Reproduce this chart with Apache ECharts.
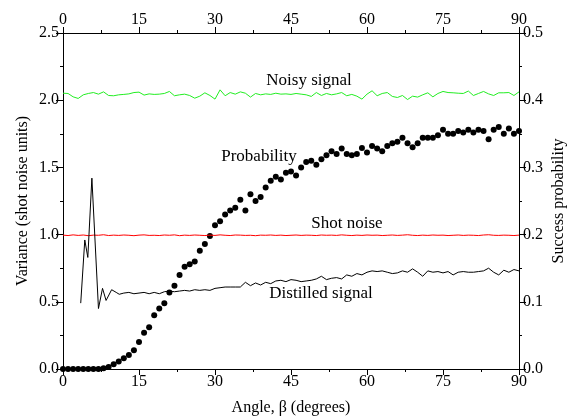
<!DOCTYPE html>
<html>
<head>
<meta charset="utf-8">
<script src="https://cdn.jsdelivr.net/npm/echarts@6/dist/echarts.min.js"></script>
<style>
  html, body { margin: 0; padding: 0; background: #fff; }
  #main { width: 572px; height: 420px; }
</style>
</head>
<body>
<div id="main"></div>
<script>
// angle grid (degrees) shared by noisy, shot noise and probability traces
var angles = [];
for (var a = 0; a <= 90; a++) angles.push(a);

// variance of the noisy signal (shot noise units)
var noisy = [
  2.052, 2.050, 2.025, 2.013, 2.040, 2.050, 2.057, 2.045, 2.062, 2.035,
  2.033, 2.040, 2.043, 2.047, 2.057, 2.060, 2.038, 2.047, 2.043, 2.045,
  2.050, 2.065, 2.033, 2.040, 2.045, 2.035, 2.015, 2.030, 2.055, 2.035,
  2.008, 2.077, 2.033, 2.057, 2.045, 2.062, 2.052, 2.023, 2.050, 2.040,
  2.047, 2.043, 2.052, 2.045, 2.047, 2.043, 2.050, 2.045, 2.040, 2.028,
  2.057, 2.035, 2.050, 2.040, 2.047, 2.057, 2.033, 2.043, 2.030, 2.008,
  2.045, 2.070, 2.033, 2.050, 2.057, 2.028, 2.020, 2.035, 2.005, 2.030,
  2.023, 2.040, 2.055, 2.025, 2.050, 2.065, 2.057, 2.055, 2.052, 2.050,
  2.068, 2.035, 2.050, 2.065, 2.047, 2.035, 2.055, 2.055, 2.057, 2.035,
  2.062
];

// shot noise level
var shot = [
  0.996, 0.993, 0.998, 0.994, 0.997, 0.992, 0.996, 0.995, 0.999, 0.993,
  0.996, 0.994, 0.997, 0.995, 0.992, 0.996, 0.998, 0.994, 0.995, 0.993,
  0.997, 0.995, 0.998, 0.992, 0.996, 0.994, 0.997, 0.995, 0.993, 0.996,
  0.994, 0.998, 0.995, 0.993, 0.997, 0.996, 0.994, 0.995, 0.992, 0.996,
  0.995, 0.997, 0.994, 0.996, 0.993, 0.995, 0.997, 0.994, 0.996, 0.995,
  0.993, 0.997, 0.995, 0.996, 0.994, 0.998, 0.995, 0.993, 0.996, 0.994,
  0.997, 0.995, 0.996, 0.993, 0.995, 0.997, 0.994, 0.996, 0.999, 0.995,
  0.993, 0.996, 0.994, 0.997, 0.995, 0.996, 0.993, 0.995, 0.997, 0.994,
  0.996, 0.995, 0.993, 0.997, 0.999, 0.995, 0.994, 0.996, 0.995, 0.993,
  0.996
];

// success probability (right axis)
var probability = [
  0, 0, 0, 0, 0, 0, 0, 0, 0.001, 0.003,
  0.007, 0.011, 0.016, 0.021, 0.028, 0.040, 0.054, 0.062, 0.080, 0.090,
  0.098, 0.114, 0.124, 0.140, 0.152, 0.156, 0.160, 0.176, 0.186, 0.198,
  0.214, 0.220, 0.230, 0.236, 0.240, 0.252, 0.236, 0.260, 0.250, 0.256,
  0.270, 0.280, 0.286, 0.282, 0.292, 0.294, 0.288, 0.300, 0.308, 0.310,
  0.304, 0.312, 0.318, 0.324, 0.320, 0.328, 0.320, 0.318, 0.320, 0.329,
  0.322, 0.332, 0.328, 0.324, 0.332, 0.336, 0.338, 0.344, 0.336, 0.330,
  0.336, 0.344, 0.344, 0.344, 0.348, 0.356, 0.350, 0.350, 0.354, 0.352,
  0.356, 0.352, 0.356, 0.354, 0.342, 0.356, 0.360, 0.350, 0.358, 0.350,
  0.354
];

// distilled signal has its own angle list
var distAngles = [
  3.5, 4.3, 4.9, 5.7, 7.0, 7.8, 8.5, 9.6, 10.5, 11.1,
  12, 13, 14, 15, 16, 17, 18, 19, 20, 21, 22, 23, 24, 25, 26, 27, 28, 29,
  30, 31, 32, 33, 34, 35, 36, 37, 38, 39, 40, 41, 42, 43, 44, 45, 46, 47,
  48, 49, 50, 51, 52, 53, 54, 55, 56, 57, 58, 59, 60, 61, 62, 63, 64, 65,
  66, 67, 68, 69, 70, 71, 72, 73, 74, 75, 76, 77, 78, 79, 80, 81, 82, 83,
  84, 85, 86, 87, 88, 89, 90
];
var distilled = [
  0.49, 0.96, 0.83, 1.42, 0.45, 0.60, 0.51, 0.59, 0.57, 0.556,
  0.565, 0.57, 0.56, 0.565, 0.57, 0.56, 0.57, 0.56, 0.575, 0.58,
  0.575, 0.58, 0.585, 0.58, 0.59, 0.585, 0.59, 0.585, 0.60, 0.605,
  0.61, 0.61, 0.61, 0.61, 0.645, 0.62, 0.64, 0.625, 0.645, 0.635,
  0.655, 0.66, 0.65, 0.665, 0.66, 0.65, 0.655, 0.66, 0.67, 0.69,
  0.665, 0.675, 0.68, 0.67, 0.70, 0.69, 0.71, 0.70, 0.72, 0.73,
  0.725, 0.73, 0.72, 0.71, 0.715, 0.73, 0.72, 0.745, 0.72, 0.69,
  0.73, 0.72, 0.725, 0.715, 0.725, 0.70, 0.72, 0.725, 0.72, 0.72,
  0.725, 0.73, 0.75, 0.72, 0.70, 0.735, 0.72, 0.74, 0.73
];

function pairs(xs, ys) {
  var out = [];
  for (var i = 0; i < ys.length; i++) out.push([xs[i], ys[i]]);
  return out;
}

var font = "'Liberation Serif', 'Times New Roman', Times, serif";
var black = '#000';

function xAx(pos) {
  return {
    type: 'value', position: pos, min: 0, max: 90, interval: 15,
    name: pos === 'bottom' ? 'Angle, \u03b2 (degrees)' : '',
    nameLocation: 'middle', nameGap: 31, nameMoveOverlap: false,
    nameTextStyle: { fontFamily: font, fontSize: 16, color: black },
    axisLine: { onZero: false, lineStyle: { color: black, width: 1 } },
    axisTick: { length: 6, lineStyle: { color: black } },
    minorTick: { show: true, splitNumber: 2, length: 3, lineStyle: { color: black } },
    axisLabel: { fontFamily: font, fontSize: 16, color: black, margin: 5 },
    splitLine: { show: false }
  };
}

function yAx(pos, max, step, title, gap) {
  return {
    type: 'value', position: pos, min: 0, max: max, interval: step,
    name: title, nameLocation: 'middle', nameGap: gap, nameMoveOverlap: false,
    nameTextStyle: { fontFamily: font, fontSize: 16, color: black },
    axisLine: { show: true, onZero: false, lineStyle: { color: black, width: 1 } },
    axisTick: { show: true, length: 7, lineStyle: { color: black } },
    minorTick: { show: true, splitNumber: 2, length: 3, lineStyle: { color: black } },
    axisLabel: { fontFamily: font, fontSize: 16, color: black, margin: 4,
      formatter: function (v) { return v.toFixed(1); } },
    splitLine: { show: false }
  };
}

function label(text, x, y) {
  return {
    type: 'text', x: x, y: y,
    style: { text: text, fill: black, fontFamily: font, fontSize: 17,
      textAlign: 'center', textVerticalAlign: 'middle' }
  };
}

var chart = echarts.init(document.getElementById('main'));
chart.setOption({
  backgroundColor: '#fff',
  animation: false,
  grid: { left: 63, right: 53, top: 33, bottom: 51, outerBoundsMode: 'none' },
  xAxis: [xAx('bottom'), xAx('top')],
  yAxis: [
    yAx('left', 2.5, 0.5, 'Variance (shot noise units)', 32),
    yAx('right', 0.5, 0.1, 'Success probability', 32)
  ],
  series: [
    {
      name: 'Noisy signal', type: 'line', data: pairs(angles, noisy),
      showSymbol: false, lineStyle: { color: '#22ee22', width: 1 }
    },
    {
      name: 'Shot noise', type: 'line', data: pairs(angles, shot),
      showSymbol: false, lineStyle: { color: '#ff0000', width: 1 }
    },
    {
      name: 'Distilled signal', type: 'line', data: pairs(distAngles, distilled),
      showSymbol: false, lineStyle: { color: black, width: 1 }
    },
    {
      name: 'Probability', type: 'scatter', yAxisIndex: 1,
      data: pairs(angles, probability),
      symbol: 'circle', symbolSize: 6, itemStyle: { color: black, opacity: 1 }
    }
  ],
  graphic: [
    label('Noisy signal', 309, 81),
    label('Probability', 259, 157),
    label('Shot noise', 347, 224),
    label('Distilled signal', 321, 294)
  ]
});
</script>
</body>
</html>
